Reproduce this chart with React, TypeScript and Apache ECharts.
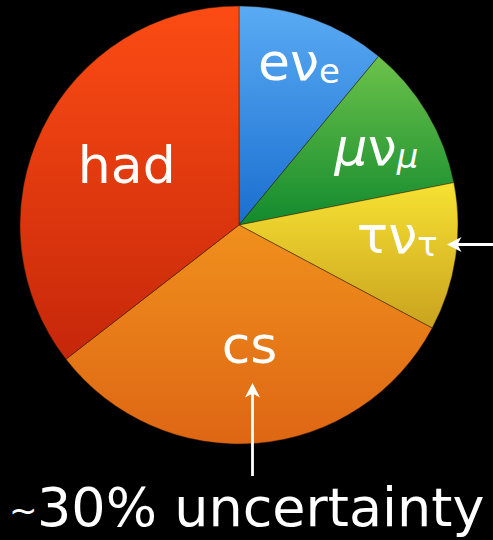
import React, { useEffect, useRef } from 'react';
import * as echarts from 'echarts';

// W decay channels, clockwise from 12 o'clock
const categories = ['eνe', 'μνμ', 'τντ', 'cs', 'had'];
const values = [11.0, 10.9, 10.9, 31.7, 35.5];
const labelTexts = ['{n|eν}{ns|e}', '{ni|μ}{n|ν}{nsi|μ}', '{mt|τν}{st|τ}', '{m|cs}', '{m|had}'];
const topColors = ['#5aabf4', '#6cc24a', '#f7e232', '#f0901d', '#fc4c14'];
const bottomColors = ['#1a6ecf', '#128a2e', '#c9a21f', '#de6614', '#c6270a'];
const annotation = '30% uncertainty';

const WIDE = '"DejaVu Sans", Verdana, sans-serif';

const base = { color: '#fff', fontFamily: WIDE, verticalAlign: 'bottom' };
const P = 9;
const PN = 0;
const PT = 18;
const main = (p: number, italic = false) => ({ ...base, fontSize: 52, lineHeight: 60, padding: [0, 0, p, 0], fontStyle: italic ? 'italic' : 'normal' });
const sub = (p: number, italic = false) => ({ ...base, fontSize: 34, lineHeight: 38, padding: [0, 0, p, 0], fontStyle: italic ? 'italic' : 'normal' });
const rich = {
  m: main(P),
  n: main(PN),
  ni: main(PN, true),
  ns: sub(PN),
  nsi: sub(PN, true),
  mt: main(PT),
  st: sub(PT),
};

const CENTER = [239, 225];
const R = 219;

function labelSeries(labelRadius: number, shown: number[]) {
  return {
    type: 'pie',
    center: CENTER,
    radius: [2 * labelRadius - R, R],
    startAngle: 90,
    clockwise: true,
    silent: true,
    avoidLabelOverlap: false,
    labelLine: { show: false },
    emphasis: { disabled: true },
    itemStyle: { color: 'rgba(0,0,0,0)', borderWidth: 0 },
    data: categories.map((c, i) => ({
      name: c,
      value: values[i],
      label: {
        show: shown.includes(i),
        position: 'inside',
        formatter: labelTexts[i],
        rich,
      },
    })),
  };
}

export default function App() {
  const ref = useRef<HTMLDivElement>(null);
  useEffect(() => {
    const chart = echarts.init(ref.current!, null, { renderer: 'svg' });
    chart.setOption({
      animation: false,
      backgroundColor: '#000',
      series: [
        {
          type: 'pie',
          center: CENTER,
          radius: [0, R],
          startAngle: 90,
          clockwise: true,
          silent: true,
          label: { show: false },
          labelLine: { show: false },
          emphasis: { disabled: true },
          data: categories.map((c, i) => ({
            name: c,
            value: values[i],
            itemStyle: {
              color: new echarts.graphic.LinearGradient(0, 0, 0, 1, [
                { offset: 0, color: topColors[i] },
                { offset: 1, color: bottomColors[i] },
              ]),
              borderColor: 'rgba(50,25,0,0.75)',
              borderWidth: 0.6,
            },
          })),
        },
        labelSeries(122, [3, 4]),
        labelSeries(157, [1, 2]),
        labelSeries(174, [0]),
      ],
      graphic: [
        { type: 'line', z: 100, shape: { x1: 252.5, y1: 476, x2: 252.5, y2: 392 }, style: { stroke: '#fff', lineWidth: 2.8 }, silent: true },
        { type: 'polygon', z: 100, shape: { points: [[252.5, 383], [245, 397.5], [252.5, 393.5], [260, 397.5]] }, style: { fill: '#fff' }, silent: true },
        { type: 'line', z: 100, shape: { x1: 493, y1: 244.5, x2: 456, y2: 244.5 }, style: { stroke: '#fff', lineWidth: 2.8 }, silent: true },
        { type: 'polygon', z: 100, shape: { points: [[447, 244.5], [461.5, 237], [457.5, 244.5], [461.5, 252]] }, style: { fill: '#fff' }, silent: true },
        { type: 'text', z: 100, x: 9, y: 510, style: { text: '~', fill: '#fff', font: `34px ${WIDE}`, verticalAlign: 'middle', align: 'left' }, silent: true },
        { type: 'text', z: 100, x: 37, y: 507, style: { text: annotation, fill: '#fff', font: `54px ${WIDE}`, verticalAlign: 'middle', align: 'left' }, silent: true },
      ],
    });
    return () => chart.dispose();
  }, []);
  return (
    <div
      ref={ref}
      style={{ position: 'fixed', left: 0, top: 0, width: 493, height: 540, background: '#000' }}
    />
  );
}
